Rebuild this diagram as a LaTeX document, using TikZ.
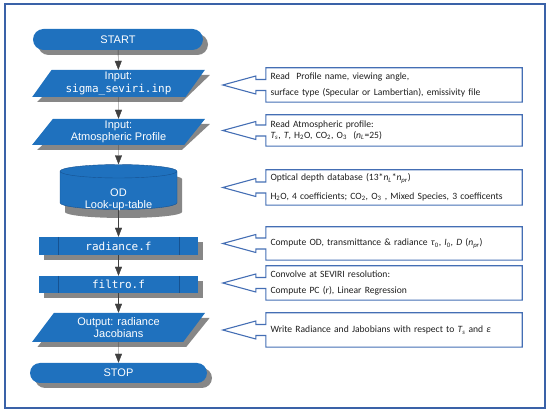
\documentclass[tikz,border=0pt]{standalone}
\usepackage{fontspec}
\setmainfont{Carlito}
\newfontfamily\flowfont{Liberation Sans}
\newfontfamily\codefont{DejaVu Sans Mono}
\usetikzlibrary{shapes.geometric, shapes.misc, arrows.meta}

\definecolor{flowblue}{RGB}{31,113,190}
\definecolor{flowedge}{RGB}{22,82,145}
\definecolor{frameblue}{RGB}{58,98,168}
\definecolor{noteblue}{RGB}{68,110,180}
\definecolor{shadowgray}{RGB}{135,135,135}
\definecolor{notetext}{RGB}{30,30,30}

\tikzset{
  flowbase/.style={fill=flowblue, text=white, font=\flowfont\fontsize{11}{12.5}\selectfont, align=center, inner sep=0pt},
  shadowbox/.style={fill=shadowgray, draw=none, path picture={}},
  termbox/.style={flowbase, rounded rectangle, minimum width=170pt, minimum height=21pt},
  iobox/.style={flowbase, trapezium, trapezium left angle=56, trapezium right angle=124, trapezium stretches=true, minimum width=173pt, minimum height=27pt},
  dbbox/.style={flowbase, cylinder, shape border rotate=90, aspect=0.2, minimum width=117pt, minimum height=45pt, draw=flowedge, thin},
  procbox/.style={flowbase, rectangle, minimum width=159pt, minimum height=18pt, font=\codefont\fontsize{11}{12.5}\selectfont,
    path picture={\draw[flowedge] ([xshift=19pt]path picture bounding box.north west) -- ([xshift=19pt]path picture bounding box.south west)
      ([xshift=-19pt]path picture bounding box.north east) -- ([xshift=-19pt]path picture bounding box.south east);}},
  notebox/.style={minimum width=256pt, text width=247pt, inner xsep=4.5pt, inner ysep=0pt, align=left, text=notetext, font=\fontsize{9.6}{11.5}\selectfont},
  noteline/.style={draw=noteblue, line width=1.1pt, line join=miter},
  flow/.style={draw=black!75, thin, -{Triangle[length=9pt,width=7pt]}},
}

\begin{document}
\begin{tikzpicture}[x=1pt, y=-1pt]
  \useasboundingbox (0,0) rectangle (550,414);
  \draw[frameblue, line width=2pt] (5,4) rectangle (545,408);

  % shadows
  \node[termbox, shadowbox] (startsh) at (123,44.5) {\phantom{START}};
  \node[iobox, shadowbox] (inpsh) at (123.5,88.5) {\phantom{Input:}};
  \node[iobox, shadowbox, minimum height=26pt] (atmsh) at (123.5,137) {\phantom{Input:}};
  \fill[shadowgray] (65,212) arc[start angle=180, end angle=360, x radius=58.5pt, y radius=6pt]
    -- (182,179) arc[start angle=0, end angle=180, x radius=58.5pt, y radius=6pt] -- cycle;
  \node[procbox, shadowbox] (radsh) at (123.5,251) {\phantom{radiance.f}};
  \node[procbox, shadowbox, minimum height=17pt] (filsh) at (123.5,289.5) {\phantom{filtro.f}};
  \node[iobox, shadowbox, minimum height=29pt] (outsh) at (123.5,332.5) {\phantom{Output:}};
  \node[termbox, shadowbox, minimum width=177pt, minimum height=20pt] (stopsh) at (123.5,378) {\phantom{STOP}};

  % flow chart
  \node[termbox] (start) at (118,39.5) {START};
  \node[iobox] (inp) at (118.5,83.5) {Input:\\{\codefont sigma\_seviri.inp}};
  \node[iobox, minimum height=26pt] (atm) at (118.5,132) {Input:\\Atmospheric Profile};
  \node[dbbox, label={[yshift=-9.5pt, align=center, text=white, font=\flowfont\fontsize{11}{12.5}\selectfont]center:OD\\Look-up-table}] (od) at (118.5,190.5) {\phantom{Look-up-table}};
  \node[procbox] (rad) at (118.5,246) {radiance.f};
  \node[procbox, minimum height=17pt] (fil) at (118.5,284.5) {filtro.f};
  \node[iobox, minimum height=29pt] (out) at (118.5,327.5) {Output: radiance\\Jacobians};
  \node[termbox, minimum width=177pt, minimum height=20pt] (stop) at (118.5,373) {STOP};

  \draw[flow] (start) -- (inp);
  \draw[flow] (inp) -- (atm);
  \draw[flow] (atm) -- (od);
  \draw[flow] (od) -- (rad);
  \draw[flow] (rad) -- (fil);
  \draw[flow] (fil) -- (out);
  \draw[flow] (out) -- (stop);

  % notes
  \node[notebox, minimum height=34pt] (n1) at (394,85)
    {Read~ Profile name, viewing angle,\\[5pt] surface type (Specular or Lambertian), emissivity file};
  \node[notebox, minimum height=31pt] (n2) at (394,130.5)
    {Read Atmospheric profile:\\[-1pt] \textit{T\textsubscript{s}}, \textit{T}, H\textsubscript{2}O, CO\textsubscript{2}, O\textsubscript{3}~ (\textit{n\textsubscript{L}}=25)};
  \node[notebox, minimum height=35pt] (n3) at (394,187.5)
    {Optical depth database (13*\textit{n\textsubscript{L}}*\textit{n\textsubscript{pr}})\\[7pt] H\textsubscript{2}O, 4 coefficients; CO\textsubscript{2}, O\textsubscript{3} , Mixed Species, 3 coefficents};
  \node[notebox, minimum height=33pt] (n4) at (394,243.5)
    {Compute OD, transmittance \& radiance \textit{τ}\textsubscript{0}, \textit{I}\textsubscript{0}, \textit{D} (\textit{n\textsubscript{pr}})};
  \node[notebox, minimum height=34pt] (n5) at (394,283)
    {Convolve at SEVIRI resolution:\\[4.5pt] Compute PC (\textit{r}), Linear Regression};
  \node[notebox, minimum height=34pt] (n6) at (394,330)
    {Write Radiance and Jabobians with respect to \textit{T\textsubscript{s}} and \textit{ε}};

  \foreach \n in {n1,n2,n3,n4,n5,n6}
    \draw[noteline] ([yshift=5.5pt]\n.west) -- (\n.north west) -- (\n.north east) -- (\n.south east) -- (\n.south west)
      -- ([yshift=-5.5pt]\n.west) -- ([xshift=-10pt,yshift=-5.5pt]\n.west) -- ([xshift=-10pt,yshift=-9pt]\n.west)
      -- ([xshift=-43pt]\n.west) -- ([xshift=-10pt,yshift=9pt]\n.west) -- ([xshift=-10pt,yshift=5.5pt]\n.west) -- cycle;
\end{tikzpicture}
\end{document}
